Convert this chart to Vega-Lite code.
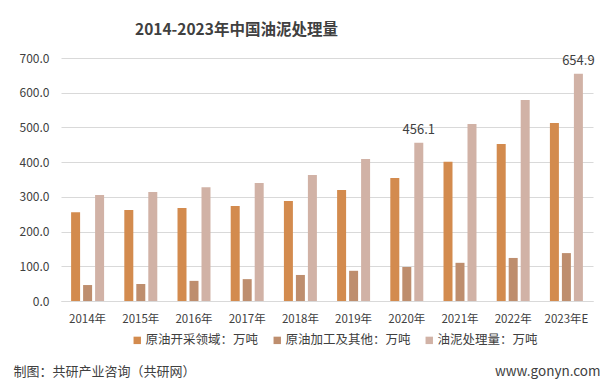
{
  "$schema": "https://vega.github.io/schema/vega-lite/v6.json",
  "width": 532,
  "height": 243,
  "autosize": {"type": "none"},
  "padding": {"left": 61, "top": 58, "right": 23, "bottom": 89},
  "background": "#ffffff",
  "title": {
    "text": "2014-2023年中国油泥处理量",
    "anchor": "start",
    "frame": "group",
    "dx": 74,
    "offset": 14,
    "fontSize": 15.5,
    "fontWeight": "bold",
    "color": "#404040",
    "font": "Noto Sans CJK SC"
  },
  "data": {
    "values": [
      {"year": "2014年", "series": "原油开采领域：万吨", "value": 256},
      {"year": "2014年", "series": "原油加工及其他：万吨", "value": 46},
      {"year": "2014年", "series": "油泥处理量：万吨", "value": 305},
      {"year": "2015年", "series": "原油开采领域：万吨", "value": 262},
      {"year": "2015年", "series": "原油加工及其他：万吨", "value": 49},
      {"year": "2015年", "series": "油泥处理量：万吨", "value": 314},
      {"year": "2016年", "series": "原油开采领域：万吨", "value": 268},
      {"year": "2016年", "series": "原油加工及其他：万吨", "value": 58},
      {"year": "2016年", "series": "油泥处理量：万吨", "value": 328},
      {"year": "2017年", "series": "原油开采领域：万吨", "value": 274},
      {"year": "2017年", "series": "原油加工及其他：万吨", "value": 63},
      {"year": "2017年", "series": "油泥处理量：万吨", "value": 340},
      {"year": "2018年", "series": "原油开采领域：万吨", "value": 288},
      {"year": "2018年", "series": "原油加工及其他：万吨", "value": 75},
      {"year": "2018年", "series": "油泥处理量：万吨", "value": 363},
      {"year": "2019年", "series": "原油开采领域：万吨", "value": 320},
      {"year": "2019年", "series": "原油加工及其他：万吨", "value": 87},
      {"year": "2019年", "series": "油泥处理量：万吨", "value": 409},
      {"year": "2020年", "series": "原油开采领域：万吨", "value": 354},
      {"year": "2020年", "series": "原油加工及其他：万吨", "value": 98},
      {"year": "2020年", "series": "油泥处理量：万吨", "value": 456.1},
      {"year": "2021年", "series": "原油开采领域：万吨", "value": 401},
      {"year": "2021年", "series": "原油加工及其他：万吨", "value": 110},
      {"year": "2021年", "series": "油泥处理量：万吨", "value": 510},
      {"year": "2022年", "series": "原油开采领域：万吨", "value": 452},
      {"year": "2022年", "series": "原油加工及其他：万吨", "value": 124},
      {"year": "2022年", "series": "油泥处理量：万吨", "value": 579},
      {"year": "2023年E", "series": "原油开采领域：万吨", "value": 513},
      {"year": "2023年E", "series": "原油加工及其他：万吨", "value": 138},
      {"year": "2023年E", "series": "油泥处理量：万吨", "value": 654.9}
    ]
  },
  "encoding": {
    "x": {
      "field": "year",
      "type": "nominal",
      "sort": null,
      "scale": {"paddingInner": 0.38, "paddingOuter": 0.19},
      "axis": {
        "labelAngle": 0,
        "labelFontSize": 11.5,
        "labelColor": "#404040",
        "labelPadding": 12,
        "ticks": false,
        "domain": true,
        "domainColor": "#d9d9d9",
        "grid": false,
        "title": "制图：共研产业咨询（共研网）",
        "titleX": -48,
        "titleY": 70,
        "titleAlign": "left",
        "titleBaseline": "middle",
        "titleFontSize": 13,
        "titleFontWeight": "normal",
        "titleColor": "#404040"
      }
    },
    "xOffset": {
      "field": "series",
      "type": "nominal",
      "scale": {
        "domain": ["原油开采领域：万吨", "原油加工及其他：万吨", "油泥处理量：万吨"],
        "paddingInner": 0.25,
        "paddingOuter": 0
      }
    },
    "y": {
      "field": "value",
      "type": "quantitative",
      "scale": {"domain": [0, 700], "nice": false},
      "axis": {
        "values": [0, 100, 200, 300, 400, 500, 600, 700],
        "format": ".1f",
        "labelFontSize": 12,
        "labelColor": "#404040",
        "labelPadding": 12,
        "ticks": false,
        "domain": false,
        "gridColor": "#d9d9d9",
        "title": "www.gonyn.com",
        "titleAngle": 0,
        "titleX": 539,
        "titleY": 313,
        "titleAlign": "right",
        "titleBaseline": "middle",
        "titleFontSize": 13.5,
        "titleFontWeight": "normal",
        "titleColor": "#404040"
      }
    }
  },
  "layer": [
    {
      "mark": {"type": "bar"},
      "encoding": {
        "color": {
          "field": "series",
          "type": "nominal",
          "scale": {
            "domain": ["原油开采领域：万吨", "原油加工及其他：万吨", "油泥处理量：万吨"],
            "range": ["#D38B4E", "#BE8E6E", "#D1B2A6"]
          },
          "legend": {
            "title": null,
            "orient": "none",
            "legendX": 70,
            "legendY": 276,
            "direction": "horizontal",
            "symbolType": "square",
            "symbolSize": 55,
            "symbolStrokeWidth": 0,
            "labelFontSize": 12.5,
            "labelColor": "#404040",
            "labelOffset": 2,
            "columnPadding": 12
          }
        }
      }
    },
    {
      "transform": [
        {"filter": "datum.series === '油泥处理量：万吨' && (datum.year === '2020年' || datum.year === '2023年E')"}
      ],
      "mark": {
        "type": "text",
        "baseline": "alphabetic",
        "dy": -9,
        "fontSize": 13,
        "fontWeight": "normal",
        "color": "#404040"
      },
      "encoding": {
        "text": {"field": "value", "type": "quantitative", "format": ".1f"}
      }
    }
  ],
  "config": {
    "font": "Noto Sans CJK SC",
    "view": {"stroke": null},
    "axis": {"labelFont": "Noto Sans CJK SC", "titleFont": "Noto Sans CJK SC"},
    "legend": {"labelFont": "Noto Sans CJK SC"}
  }
}
